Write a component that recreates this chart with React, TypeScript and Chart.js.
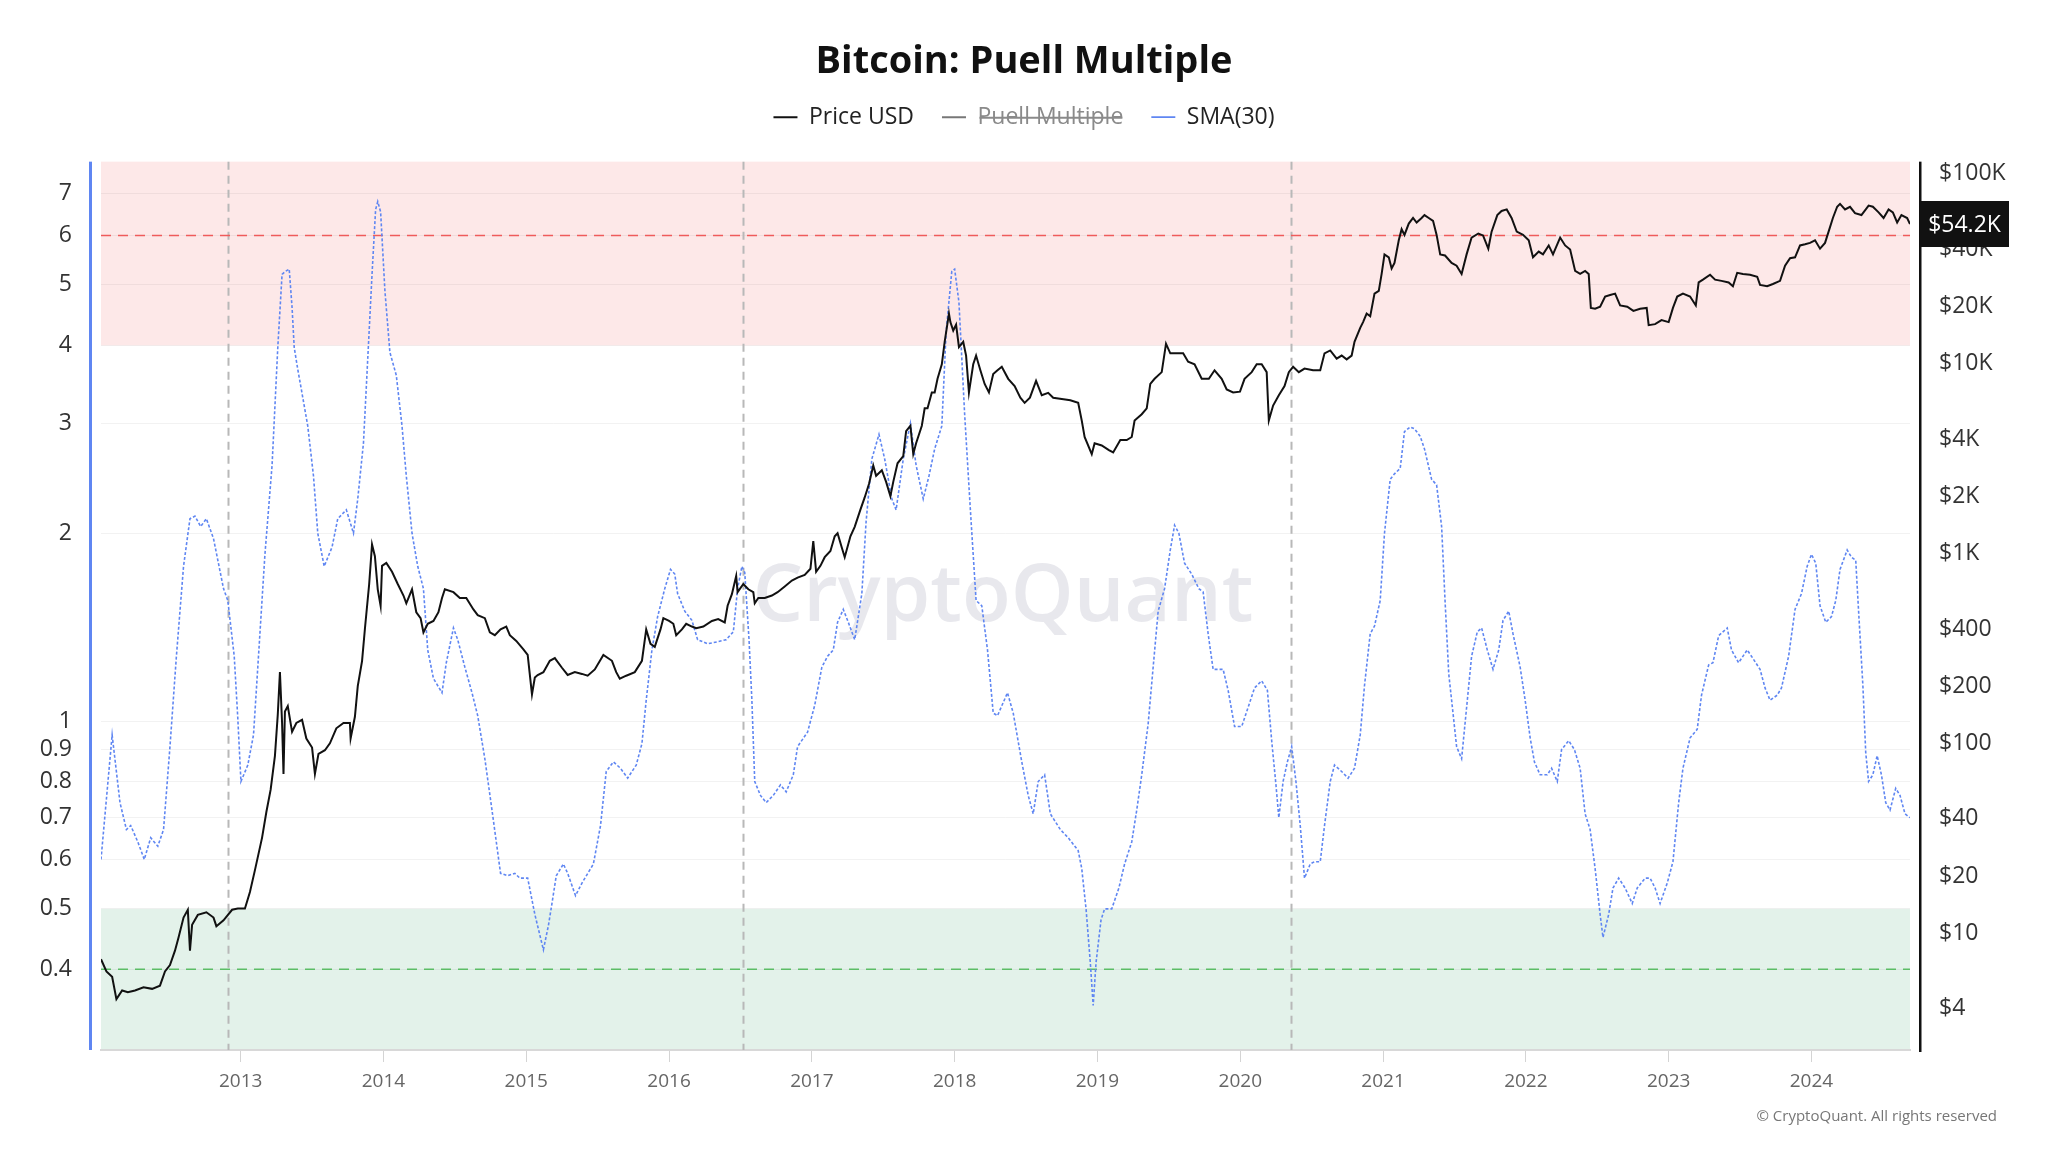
import React, { useEffect, useRef } from "react";
import { Chart, registerables } from "chart.js";

Chart.register(...registerables);

// ---------------- data ----------------
const TITLE_TEXT = "Bitcoin: Puell Multiple";
const SERIES_LABELS = ["Price USD", "Puell Multiple", "SMA(30)"];
const COPYRIGHT = "© CryptoQuant. All rights reserved";
const WATERMARK = "CryptoQuant";

const YEAR_TICKS = [2013, 2014, 2015, 2016, 2017, 2018, 2019, 2020, 2021, 2022, 2023, 2024];
const PUELL_TICKS = [0.4, 0.5, 0.6, 0.7, 0.8, 0.9, 1, 2, 3, 4, 5, 6, 7];
const PRICE_TICKS = [4, 10, 20, 40, 100, 200, 400, 1000, 2000, 4000, 10000, 20000, 40000, 100000];
const PRICE_TICK_LABELS = ["$4", "$10", "$20", "$40", "$100", "$200", "$400", "$1K", "$2K", "$4K", "$10K", "$20K", "$40K", "$100K"];

// halving dates as fractional years (2012-11-28, 2016-07-09, 2020-05-11)
const HALVINGS = [2012.909, 2016.519, 2020.358];
const X_RANGE = [2012.022, 2024.69];
const PUELL_RANGE = [0.297, 7.88];
const PRICE_RANGE = [2.43, 115400];
const TOP_ZONE_FROM = 4;
const BOTTOM_ZONE_TO = 0.5;
const HIGH_LINE = 6;
const LOW_LINE = 0.4;

// Puell Multiple SMA(30) (fractional year, value)
const SMA_DATES = [
  2012.022, 2012.10, 2012.155, 2012.20, 2012.23, 2012.28, 2012.325, 2012.37, 2012.42, 2012.46,
  2012.505, 2012.55, 2012.60, 2012.645, 2012.68, 2012.72, 2012.76, 2012.81, 2012.88, 2012.91,
  2012.955, 2012.98, 2013.002, 2013.05, 2013.09, 2013.12, 2013.17, 2013.22, 2013.26, 2013.29,
  2013.315, 2013.34, 2013.36, 2013.375, 2013.40, 2013.425, 2013.47, 2013.51, 2013.54, 2013.585,
  2013.64, 2013.68, 2013.74, 2013.79, 2013.82, 2013.86, 2013.89, 2013.92, 2013.945, 2013.96,
  2013.98, 2014.01, 2014.045, 2014.09, 2014.13, 2014.16, 2014.20, 2014.24, 2014.28, 2014.31,
  2014.35, 2014.41, 2014.44, 2014.49, 2014.52, 2014.57, 2014.62, 2014.66, 2014.71, 2014.76,
  2014.82, 2014.87, 2014.92, 2014.955, 2015.01, 2015.06, 2015.12, 2015.155, 2015.18, 2015.21,
  2015.26, 2015.29, 2015.345, 2015.39, 2015.47, 2015.52, 2015.56, 2015.61, 2015.66, 2015.71,
  2015.77, 2015.81, 2015.84, 2015.88, 2015.92, 2015.97, 2016.01, 2016.04, 2016.06, 2016.11,
  2016.16, 2016.20, 2016.27, 2016.34, 2016.40, 2016.45, 2016.48, 2016.51, 2016.53, 2016.56,
  2016.58, 2016.60, 2016.64, 2016.68, 2016.73, 2016.78, 2016.82, 2016.87, 2016.90, 2016.97,
  2017.02, 2017.07, 2017.11, 2017.15, 2017.18, 2017.22, 2017.255, 2017.30, 2017.35, 2017.38,
  2017.42, 2017.47, 2017.51, 2017.56, 2017.59, 2017.64, 2017.69, 2017.73, 2017.78, 2017.82,
  2017.86, 2017.91, 2017.94, 2017.98, 2018.00, 2018.03, 2018.07, 2018.11, 2018.15, 2018.19,
  2018.23, 2018.27, 2018.30, 2018.37, 2018.41, 2018.47, 2018.515, 2018.55, 2018.585, 2018.63,
  2018.67, 2018.74, 2018.795, 2018.865, 2018.89, 2018.92, 2018.95, 2018.97, 2018.99, 2019.025,
  2019.05, 2019.10, 2019.15, 2019.19, 2019.24, 2019.275, 2019.31, 2019.355, 2019.39, 2019.425,
  2019.47, 2019.51, 2019.54, 2019.57, 2019.61, 2019.66, 2019.71, 2019.74, 2019.775, 2019.81,
  2019.88, 2019.915, 2019.96, 2020.01, 2020.06, 2020.10, 2020.15, 2020.19, 2020.22, 2020.25,
  2020.27, 2020.30, 2020.33, 2020.36, 2020.39, 2020.42, 2020.45, 2020.49, 2020.52, 2020.56,
  2020.59, 2020.63, 2020.66, 2020.71, 2020.755, 2020.80, 2020.84, 2020.87, 2020.91, 2020.94,
  2020.98, 2021.01, 2021.05, 2021.08, 2021.12, 2021.15, 2021.19, 2021.22, 2021.26, 2021.29,
  2021.34, 2021.375, 2021.41, 2021.434, 2021.46, 2021.48, 2021.515, 2021.55, 2021.59, 2021.62,
  2021.66, 2021.69, 2021.73, 2021.77, 2021.81, 2021.84, 2021.88, 2021.91, 2021.96, 2021.995,
  2022.03, 2022.06, 2022.10, 2022.15, 2022.18, 2022.22, 2022.25, 2022.30, 2022.34, 2022.38,
  2022.415, 2022.45, 2022.485, 2022.52, 2022.54, 2022.58, 2022.61, 2022.65, 2022.695, 2022.745,
  2022.78, 2022.835, 2022.87, 2022.905, 2022.94, 2022.99, 2023.03, 2023.07, 2023.10, 2023.15,
  2023.20, 2023.23, 2023.28, 2023.31, 2023.35, 2023.41, 2023.44, 2023.49, 2023.55, 2023.59,
  2023.64, 2023.675, 2023.71, 2023.76, 2023.79, 2023.84, 2023.885, 2023.93, 2023.97, 2024.00,
  2024.03, 2024.06, 2024.10, 2024.14, 2024.17, 2024.20, 2024.25, 2024.28, 2024.31, 2024.33,
  2024.36, 2024.38, 2024.40, 2024.43, 2024.46, 2024.49, 2024.52, 2024.55, 2024.59, 2024.62,
  2024.655, 2024.69,
];
const SMA_VALUES = [
  0.60, 0.95, 0.74, 0.67, 0.68, 0.64, 0.60, 0.65, 0.63, 0.67,
  0.91, 1.27, 1.77, 2.11, 2.13, 2.05, 2.11, 1.96, 1.63, 1.56,
  1.27, 1.01, 0.80, 0.85, 0.95, 1.22, 1.85, 2.57, 3.97, 5.2,
  5.26, 5.3, 4.6, 3.97, 3.66, 3.4, 2.97, 2.47, 2.0, 1.77,
  1.9, 2.11, 2.18, 2.0, 2.27, 2.79, 3.81, 5.2, 6.6, 6.8,
  6.55, 4.9, 3.9, 3.58, 2.97, 2.47, 2.0, 1.77, 1.63, 1.30,
  1.17, 1.11, 1.24, 1.41, 1.35, 1.22, 1.11, 1.02, 0.87, 0.72,
  0.57, 0.565, 0.57, 0.56, 0.56, 0.49, 0.43, 0.47, 0.51, 0.565,
  0.59, 0.57, 0.525, 0.55, 0.59, 0.68, 0.83, 0.86, 0.84, 0.81,
  0.85, 0.92, 1.08, 1.30, 1.47, 1.63, 1.75, 1.72, 1.6, 1.5,
  1.45, 1.35, 1.33, 1.34, 1.35, 1.39, 1.63, 1.77, 1.73, 1.35,
  1.08, 0.80, 0.76, 0.74, 0.76, 0.79, 0.77, 0.82, 0.91, 0.96,
  1.06, 1.22, 1.27, 1.30, 1.44, 1.51, 1.44, 1.35, 1.6, 2.09,
  2.63, 2.88, 2.63, 2.27, 2.18, 2.63, 3.0, 2.57, 2.27, 2.47,
  2.73, 2.97, 4.2, 5.26, 5.3, 4.69, 3.1, 2.18, 1.56, 1.53,
  1.30, 1.03, 1.02, 1.11, 1.03, 0.86, 0.76, 0.71, 0.80, 0.82,
  0.71, 0.67, 0.65, 0.62, 0.58, 0.50, 0.41, 0.35, 0.41, 0.48,
  0.50, 0.50, 0.54, 0.59, 0.64, 0.72, 0.82, 0.99, 1.22, 1.50,
  1.63, 1.88, 2.06, 2.0, 1.79, 1.72, 1.63, 1.61, 1.38, 1.21,
  1.21, 1.12, 0.98, 0.98, 1.06, 1.13, 1.16, 1.12, 0.93, 0.79,
  0.70, 0.80, 0.86, 0.91, 0.80, 0.68, 0.56, 0.59, 0.595, 0.595,
  0.68, 0.80, 0.85, 0.83, 0.81, 0.84, 0.95, 1.14, 1.38, 1.42,
  1.56, 2.0, 2.44, 2.49, 2.54, 2.91, 2.96, 2.94, 2.86, 2.73,
  2.44, 2.39, 2.05, 1.56, 1.19, 1.08, 0.91, 0.87, 1.08, 1.27,
  1.39, 1.41, 1.30, 1.21, 1.30, 1.45, 1.50, 1.38, 1.22, 1.08,
  0.94, 0.86, 0.82, 0.82, 0.84, 0.80, 0.90, 0.93, 0.90, 0.84,
  0.71, 0.67, 0.58, 0.49, 0.45, 0.49, 0.54, 0.56, 0.54, 0.51,
  0.54, 0.56, 0.56, 0.54, 0.51, 0.55, 0.595, 0.74, 0.84, 0.94,
  0.97, 1.10, 1.23, 1.24, 1.37, 1.41, 1.30, 1.24, 1.30, 1.26,
  1.21, 1.13, 1.08, 1.10, 1.13, 1.27, 1.51, 1.60, 1.77, 1.85,
  1.79, 1.53, 1.44, 1.47, 1.56, 1.75, 1.88, 1.83, 1.81, 1.50,
  1.14, 0.89, 0.80, 0.82, 0.88, 0.82, 0.74, 0.72, 0.78, 0.76,
  0.71, 0.70,
];

// Price USD (fractional year, USD)
const PRICE_DATES = [
  2012.022, 2012.06, 2012.10, 2012.13, 2012.17, 2012.21, 2012.26, 2012.32, 2012.38, 2012.435,
  2012.47, 2012.505, 2012.54, 2012.565, 2012.60, 2012.63, 2012.645, 2012.66, 2012.70, 2012.76,
  2012.81, 2012.83, 2012.88, 2012.94, 2012.98, 2013.03, 2013.065, 2013.10, 2013.15, 2013.18,
  2013.21, 2013.24, 2013.26, 2013.275, 2013.29, 2013.30, 2013.31, 2013.33, 2013.36, 2013.39,
  2013.43, 2013.46, 2013.50, 2013.52, 2013.545, 2013.59, 2013.625, 2013.67, 2013.72, 2013.765,
  2013.77, 2013.80, 2013.82, 2013.85, 2013.87, 2013.90, 2013.92, 2013.94, 2013.96, 2013.98,
  2013.99, 2014.02, 2014.06, 2014.10, 2014.14, 2014.16, 2014.20, 2014.23, 2014.26, 2014.28,
  2014.31, 2014.35, 2014.385, 2014.41, 2014.43, 2014.49, 2014.535, 2014.58, 2014.63, 2014.66,
  2014.71, 2014.745, 2014.78, 2014.82, 2014.86, 2014.885, 2014.93, 2014.98, 2015.01, 2015.04,
  2015.06, 2015.08, 2015.12, 2015.165, 2015.20, 2015.25, 2015.29, 2015.34, 2015.39, 2015.43,
  2015.48, 2015.54, 2015.60, 2015.63, 2015.655, 2015.70, 2015.76, 2015.81, 2015.84, 2015.87,
  2015.90, 2015.94, 2015.96, 2016.00, 2016.03, 2016.05, 2016.09, 2016.12, 2016.16, 2016.19,
  2016.24, 2016.30, 2016.344, 2016.39, 2016.41, 2016.44, 2016.47, 2016.48, 2016.52, 2016.555,
  2016.59, 2016.60, 2016.625, 2016.67, 2016.72, 2016.76, 2016.81, 2016.86, 2016.90, 2016.95,
  2016.99, 2017.01, 2017.03, 2017.06, 2017.09, 2017.13, 2017.16, 2017.18, 2017.21, 2017.23,
  2017.27, 2017.30, 2017.34, 2017.37, 2017.40, 2017.43, 2017.45, 2017.49, 2017.52, 2017.55,
  2017.57, 2017.60, 2017.64, 2017.66, 2017.69, 2017.71, 2017.73, 2017.77, 2017.79, 2017.81,
  2017.84, 2017.86, 2017.88, 2017.91, 2017.93, 2017.96, 2017.97, 2017.99, 2018.01, 2018.03,
  2018.06, 2018.08, 2018.10, 2018.13, 2018.15, 2018.18, 2018.21, 2018.24, 2018.27, 2018.30,
  2018.33, 2018.375, 2018.42, 2018.46, 2018.49, 2018.527, 2018.57, 2018.61, 2018.655, 2018.69,
  2018.75, 2018.81, 2018.865, 2018.89, 2018.91, 2018.96, 2018.98, 2019.03, 2019.08, 2019.11,
  2019.16, 2019.205, 2019.24, 2019.26, 2019.31, 2019.345, 2019.37, 2019.40, 2019.45, 2019.48,
  2019.51, 2019.54, 2019.60, 2019.635, 2019.68, 2019.73, 2019.78, 2019.82, 2019.87, 2019.905,
  2019.95, 2019.998, 2020.03, 2020.08, 2020.115, 2020.15, 2020.185, 2020.20, 2020.23, 2020.27,
  2020.31, 2020.34, 2020.37, 2020.41, 2020.45, 2020.51, 2020.56, 2020.59, 2020.63, 2020.675,
  2020.71, 2020.745, 2020.78, 2020.80, 2020.84, 2020.86, 2020.885, 2020.91, 2020.94, 2020.97,
  2020.99, 2021.01, 2021.04, 2021.06, 2021.08, 2021.11, 2021.13, 2021.15, 2021.18, 2021.21,
  2021.235, 2021.27, 2021.29, 2021.32, 2021.35, 2021.375, 2021.40, 2021.434, 2021.48, 2021.515,
  2021.55, 2021.585, 2021.62, 2021.667, 2021.70, 2021.737, 2021.76, 2021.80, 2021.83, 2021.866,
  2021.90, 2021.936, 2021.98, 2022.02, 2022.05, 2022.09, 2022.12, 2022.16, 2022.19, 2022.24,
  2022.275, 2022.31, 2022.345, 2022.38, 2022.415, 2022.44, 2022.455, 2022.485, 2022.52, 2022.555,
  2022.59, 2022.625, 2022.66, 2022.71, 2022.753, 2022.80, 2022.846, 2022.86, 2022.905, 2022.95,
  2023.00, 2023.03, 2023.06, 2023.10, 2023.15, 2023.19, 2023.21, 2023.24, 2023.29, 2023.325,
  2023.37, 2023.42, 2023.45, 2023.48, 2023.52, 2023.57, 2023.62, 2023.64, 2023.69, 2023.73,
  2023.78, 2023.815, 2023.85, 2023.885, 2023.92, 2023.955, 2023.99, 2024.025, 2024.06, 2024.095,
  2024.12, 2024.15, 2024.18, 2024.20, 2024.235, 2024.27, 2024.305, 2024.35, 2024.40, 2024.43,
  2024.47, 2024.505, 2024.54, 2024.57, 2024.60, 2024.63, 2024.67, 2024.69,
];
const PRICE_USD = [
  7.3, 6.3, 5.9, 4.5, 5.0, 4.9, 5.0, 5.2, 5.1, 5.3,
  6.3, 6.8, 8.1, 9.5, 12.1, 13.3, 8.1, 11.1, 12.5, 12.9,
  12.1, 10.9, 11.7, 13.3, 13.5, 13.5, 16.5, 21.5, 31.9, 43.5,
  57, 86, 142, 237, 128, 69, 147, 157, 115, 128,
  133, 106, 95, 69, 88, 92, 100, 120, 128, 128,
  106, 138, 200, 271, 400, 690, 1114, 967, 647, 530,
  860, 890, 800, 690, 600, 546, 647, 490, 456, 384,
  426, 441, 490, 582, 647, 625, 582, 582, 507, 473,
  456, 384, 371, 398, 412, 371, 346, 312, 292, 181,
  222, 229, 237, 272, 281, 250, 229, 237, 232, 227,
  245, 292, 272, 237, 219, 227, 237, 272, 398, 334,
  322, 398, 456, 441, 426, 371, 398, 426, 412, 404,
  412, 441, 451, 433, 530, 610, 760, 625, 690, 647,
  625, 546, 582, 582, 600, 625, 670, 720, 745, 770,
  830, 1160, 800, 860, 955, 1030, 1230, 1276, 1070, 955,
  1230, 1380, 1700, 1970, 2320, 2900, 2560, 2740, 2380, 2000,
  2380, 2980, 3250, 4400, 4700, 3340, 3800, 4700, 5800, 5800,
  7040, 7040, 8300, 9900, 13000, 18300, 16500, 14900, 16000, 12200,
  13000, 11000, 7040, 9900, 11000, 9200, 7800, 7040, 8800, 9200,
  9600, 8300, 7600, 6600, 6200, 6600, 8100, 6800, 7000, 6600,
  6500, 6400, 6200, 5000, 4100, 3330, 3800, 3700, 3500, 3400,
  3950, 3950, 4100, 5000, 5400, 5800, 7800, 8300, 9000, 12700,
  11300, 11300, 11300, 10200, 9900, 8300, 8300, 9200, 8300, 7300,
  7040, 7100, 8300, 9000, 9900, 9900, 9000, 5000, 6000, 6800,
  7600, 9000, 9600, 9000, 9400, 9200, 9200, 11300, 11700, 10600,
  11000, 10500, 11000, 13000, 15400, 16500, 18300, 17700, 23300, 24100,
  29600, 37500, 36200, 31600, 33800, 44500, 50900, 47500, 54500, 58300,
  55200, 58300, 60400, 58300, 56300, 47500, 37500, 37000, 33800, 32700,
  29600, 37500, 46000, 48300, 47200, 40200, 49400, 60400, 63500, 64700,
  58300, 49400, 47500, 44500, 36200, 38800, 37500, 41800, 37500, 46000,
  41800, 39800, 30700, 29600, 30700, 29600, 19600, 19400, 19900, 22500,
  22900, 23300, 20200, 19900, 18900, 19400, 19600, 15900, 16100, 16900,
  16500, 19600, 22500, 23300, 22500, 20200, 26700, 27600, 29300, 27600,
  27200, 26700, 25500, 30000, 29600, 29300, 28600, 25900, 25500, 26200,
  27200, 32700, 35800, 36200, 41800, 42400, 43100, 44500, 40200, 43100,
  49400, 58300, 66800, 69200, 64700, 66800, 61800, 60400, 67800, 66800,
  62400, 58300, 64700, 62400, 55200, 60400, 58300, 54200,
];

// ---------------- styling ----------------
const FONT = "'Open Sans', 'Noto Sans', sans-serif";
const BLUE = "#5f86f2";

function formatLastPrice(v: number): string {
  if (v >= 1000) return "$" + (v / 1000).toFixed(1) + "K";
  return "$" + v.toFixed(0);
}

const decorPlugin = {
  id: "decor",
  beforeLayout(chart: any) {
    const lg = chart.legend;
    if (lg && !lg.__patched) {
      const orig = lg.fit;
      lg.fit = function () {
        orig.call(this);
        this.height += 23;
      };
      lg.__patched = true;
    }
  },
  beforeDraw(chart: any) {
    const { ctx, chartArea: a, scales } = chart;
    const yl = scales.yPuell;
    ctx.save();
    const yTop = yl.getPixelForValue(TOP_ZONE_FROM);
    ctx.fillStyle = "#fde8e8";
    ctx.fillRect(a.left, a.top, a.right - a.left, yTop - a.top);
    const yBot = yl.getPixelForValue(BOTTOM_ZONE_TO);
    ctx.fillStyle = "#e3f2ea";
    ctx.fillRect(a.left, yBot, a.right - a.left, a.bottom - yBot);
    ctx.restore();
  },
  beforeDatasetsDraw(chart: any) {
    const { ctx, chartArea: a, scales } = chart;
    const yl = scales.yPuell;
    const x = scales.x;
    ctx.save();
    // watermark
    ctx.font = "600 80px " + FONT;
    ctx.fillStyle = "rgba(150,150,175,0.22)";
    ctx.textAlign = "center";
    ctx.textBaseline = "middle";
    ctx.fillText(WATERMARK, 1003, 598);
    // halving lines
    ctx.strokeStyle = "#b8b8b8";
    ctx.lineWidth = 2;
    ctx.setLineDash([8, 6]);
    HALVINGS.forEach((h) => {
      const px = Math.round(x.getPixelForValue(h)) + 0.5;
      ctx.beginPath();
      ctx.moveTo(px, a.top);
      ctx.lineTo(px, a.bottom);
      ctx.stroke();
    });
    // threshold lines
    ctx.lineWidth = 1.5;
    ctx.setLineDash([10, 7]);
    const y6 = yl.getPixelForValue(HIGH_LINE);
    ctx.strokeStyle = "#ef5b5b";
    ctx.beginPath();
    ctx.moveTo(a.left, y6);
    ctx.lineTo(a.right, y6);
    ctx.stroke();
    const y04 = yl.getPixelForValue(LOW_LINE);
    ctx.strokeStyle = "#5cbd66";
    ctx.beginPath();
    ctx.moveTo(a.left, y04);
    ctx.lineTo(a.right, y04);
    ctx.stroke();
    ctx.restore();
  },
  afterDraw(chart: any) {
    const { ctx, chartArea: a, scales } = chart;
    ctx.save();
    // axis lines offset from plot
    ctx.fillStyle = BLUE;
    ctx.fillRect(a.left - 12, a.top, 3, a.bottom - a.top);
    ctx.fillStyle = "#111";
    ctx.fillRect(a.right + 9, a.top, 2.5, a.bottom - a.top + 2);
    // last price label
    const last = PRICE_USD[PRICE_USD.length - 1];
    const py = scales.yPrice.getPixelForValue(last);
    ctx.fillStyle = "#111";
    ctx.fillRect(a.right + 10, py - 23, 89, 46);
    ctx.fillStyle = "#fff";
    ctx.font = "23px " + FONT;
    ctx.textAlign = "center";
    ctx.textBaseline = "middle";
    ctx.fillText(formatLastPrice(last), a.right + 54.5, py + 1);
    // copyright
    ctx.fillStyle = "#777";
    ctx.font = "15px " + FONT;
    ctx.textAlign = "right";
    ctx.fillText(COPYRIGHT, 1997, 1117);
    ctx.restore();
  },
};

export default function App() {
  const canvasRef = useRef<HTMLCanvasElement | null>(null);

  useEffect(() => {
    const canvas = canvasRef.current;
    if (!canvas) return;
    Chart.defaults.font.family = FONT;

    const priceData = PRICE_DATES.map((x, i) => ({ x, y: PRICE_USD[i] }));
    const smaData = SMA_DATES.map((x, i) => ({ x, y: SMA_VALUES[i] }));

    const chart = new Chart(canvas, {
      type: "line",
      data: {
        datasets: [
          {
            label: SERIES_LABELS[0],
            data: priceData,
            yAxisID: "yPrice",
            borderColor: "#111",
            backgroundColor: "#111",
            borderWidth: 2,
            pointRadius: 0,
            tension: 0,
          },
          {
            label: SERIES_LABELS[1],
            data: [],
            yAxisID: "yPuell",
            hidden: true,
            borderColor: "#666",
            backgroundColor: "#666",
            borderWidth: 2,
            pointRadius: 0,
          },
          {
            label: SERIES_LABELS[2],
            data: smaData,
            yAxisID: "yPuell",
            borderColor: BLUE,
            backgroundColor: BLUE,
            borderWidth: 1.6,
            borderDash: [3, 2],
            pointRadius: 0,
            tension: 0,
          },
        ],
      },
      options: {
        animation: false,
        responsive: false,
        devicePixelRatio: 1,
        layout: { padding: 0 },
        events: [],
        scales: {
          x: {
            type: "linear",
            min: X_RANGE[0],
            max: X_RANGE[1],
            afterBuildTicks: (s: any) => {
              s.ticks = YEAR_TICKS.map((v) => ({ value: v }));
            },
            afterFit: (s: any) => {
              s.height = 102;
            },
            ticks: {
              autoSkip: false,
              maxRotation: 0,
              callback: (v: any) => String(v),
              color: "#666",
              font: { size: 19 },
              padding: 8,
            },
            grid: {
              drawOnChartArea: false,
              drawTicks: true,
              tickLength: 12,
              color: "#d4d4d4",
            },
            border: { display: true, color: "#d8d8d8", width: 2 },
          },
          yPuell: {
            type: "logarithmic",
            position: "left",
            min: PUELL_RANGE[0],
            max: PUELL_RANGE[1],
            afterBuildTicks: (s: any) => {
              s.ticks = PUELL_TICKS.map((v) => ({ value: v }));
            },
            afterFit: (s: any) => {
              s.width = 101;
            },
            ticks: {
              autoSkip: false,
              callback: (v: any) => String(v),
              color: "#333",
              font: { size: 23 },
              padding: 29,
            },
            grid: { color: "rgba(0,0,0,0.05)", drawTicks: false },
            border: { display: false },
          },
          yPrice: {
            type: "logarithmic",
            position: "right",
            min: PRICE_RANGE[0],
            max: PRICE_RANGE[1],
            afterBuildTicks: (s: any) => {
              s.ticks = PRICE_TICKS.map((v) => ({ value: v }));
            },
            afterFit: (s: any) => {
              s.width = 138;
            },
            ticks: {
              autoSkip: false,
              callback: (v: any) => {
                const i = PRICE_TICKS.indexOf(Number(v));
                return i >= 0 ? PRICE_TICK_LABELS[i] : "";
              },
              color: "#333",
              font: { size: 23 },
              padding: 29,
            },
            grid: { display: false, drawTicks: false },
            border: { display: false },
          },
        },
        plugins: {
          title: {
            display: true,
            text: TITLE_TEXT,
            color: "#111",
            font: { size: 38, weight: "bold", lineHeight: 0.82 },
            padding: { top: 46.5, bottom: 0 },
          },
          legend: {
            display: true,
            position: "top",
            labels: {
              usePointStyle: true,
              pointStyle: "line",
              pointStyleWidth: 24,
              color: "#222",
              font: { size: 23 },
              padding: 28,
              generateLabels: (ch: any) => {
                const items = (Chart as any).defaults.plugins.legend.labels.generateLabels(ch);
                items.forEach((it: any) => {
                  if (it.hidden) {
                    it.fontColor = "#8a8a8a";
                    it.strokeStyle = "#777";
                  } else {
                    it.fontColor = "#222";
                  }
                });
                return items;
              },
            },
          },
          tooltip: { enabled: false },
        },
      } as any,
      plugins: [decorPlugin as any],
    });

    return () => {
      chart.destroy();
    };
  }, []);

  return (
    <div style={{ position: "absolute", left: 0, top: 0, width: 2048, height: 1152, background: "#fff" }}>
      <canvas ref={canvasRef} width={2048} height={1152} style={{ width: 2048, height: 1152, display: "block" }} />
    </div>
  );
}
